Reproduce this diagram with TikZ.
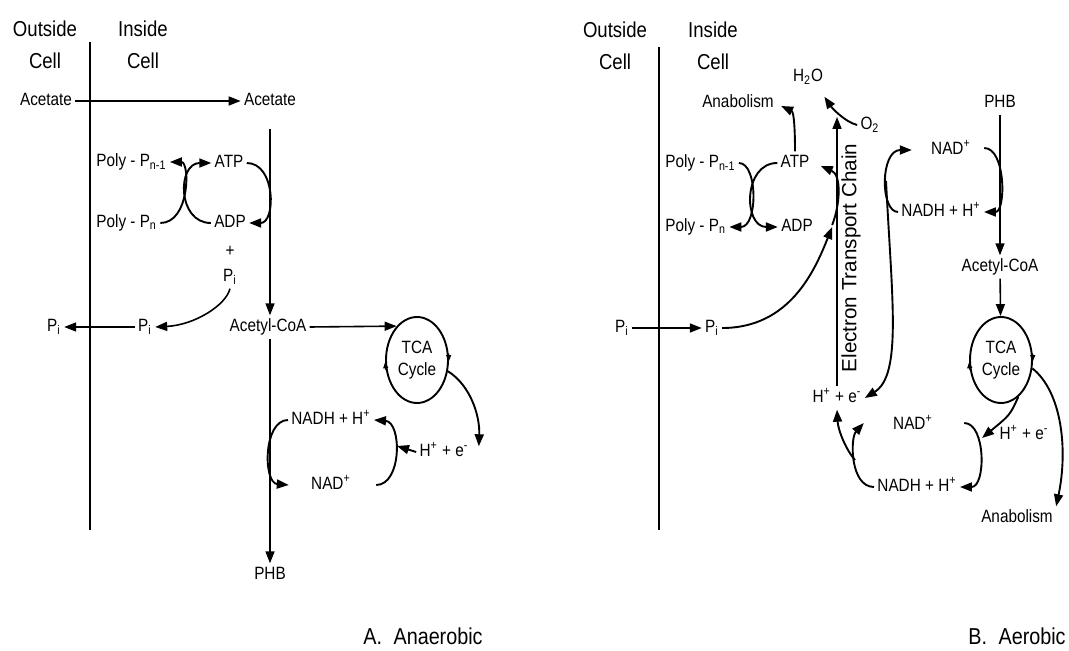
\documentclass[tikz,border=0pt]{standalone}
\usepackage{fontspec}
\setmainfont{Liberation Sans}[FakeStretch=0.86]
\newfontfamily\etcfont{Liberation Sans}
\usepackage{tikz}
\usetikzlibrary{arrows.meta,positioning,calc,shapes.geometric}

\begin{document}
\begin{tikzpicture}[x=0.5pt, y=-0.5pt,
    lbl/.style={inner sep=1.5pt, font=\fontsize{8.9}{10}\selectfont,
                text height=6.5pt, text depth=1.8pt},
    head/.style={align=center, font=\fontsize{10.8}{16}\selectfont},
    capt/.style={font=\fontsize{11.5}{14}\selectfont},
    memb/.style={line width=0.6pt},
    flow/.style={line width=0.8pt, -{Triangle[length=6pt,width=4.5pt]}},
    cyc/.style={line width=0.95pt, -{Triangle[length=6pt,width=4.5pt]}},
    tcacirc/.style={draw, ellipse, line width=0.95pt, minimum width=31pt,
                    minimum height=43pt, inner sep=0pt, align=center,
                    font=\fontsize{8.9}{11}\selectfont},
    tick/.style={line width=0.6pt, -{Triangle[length=3pt,width=2.5pt]}}]
  \useasboundingbox (0,0) rectangle (1069,651);

  % ---------- A. anaerobic ----------
  \node[head] (outA) at (45,45) {Outside\\Cell};
  \node[head] (inA) at (143,45) {Inside\\Cell};
  \draw[memb] (90,42) -- (90,530);

  \node[lbl] (acout) at (46,101) {Acetate};
  \node[lbl] (acin) at (270,101) {Acetate};
  \node[lbl, anchor=west] (pn1A) at (93,162) {Poly - P\textsubscript{n-1}};
  \node[lbl] (atpA) at (229,163) {ATP};
  \node[lbl, anchor=west] (pnA) at (93,223) {Poly - P\textsubscript{n}};
  \node[lbl] (adpA) at (230,223) {ADP};
  \node[lbl] (plusA) at (230,252) {+};
  \node[lbl] (piA) at (230,277) {P\textsubscript{i}};
  \node[lbl] (pimA) at (145,327) {P\textsubscript{i}};
  \node[lbl] (pioA) at (54,327) {P\textsubscript{i}};
  \node[lbl] (acoaA) at (268,327) {Acetyl-CoA};
  \node[tcacirc] (tcaA) at (417,360) {TCA\\Cycle};
  \node[lbl] (nadhA) at (331,420) {NADH + H\textsuperscript{+}};
  \node[lbl] (heA) at (444,452) {H\textsuperscript{+} + e\textsuperscript{-}};
  \node[lbl] (nadA) at (331,485) {NAD\textsuperscript{+}};
  \node[lbl] (phbA) at (270,575) {PHB};
  \node[capt] (capA) at (423,636) {A.\hspace{0.5em}Anaerobic};
  \coordinate (hitA) at (397,446);

  \draw[flow] (acout) -- (acin);
  \draw[flow, shorten <=8pt] (acin.south) -- (acin |- acoaA.north);
  \draw[flow] (acoaA.east) -- (tcaA.121);
  \draw[flow] (acoaA.south -| phbA) -- (phbA.north);
  \draw[flow] (piA.south) .. controls (226,305) and (195,325) .. (pimA.east);
  \draw[flow] (pimA.west) -- (pioA.east);
  % poly-P and ATP exchange
  \draw[cyc] (pnA.east) .. controls (190,223) and (190,162) .. (pn1A.east);
  \draw[cyc] (adpA.west) .. controls (177,223) and (177,163) .. (atpA.west);
  \draw[cyc] (atpA.east) .. controls (276,163) and (276,223) .. (adpA.east);
  % TCA cycle
  \draw[tick] (tcaA.12) -- (tcaA.-2);
  \draw[tick] (tcaA.198) -- (tcaA.184);
  \draw[cyc] (tcaA.-20) .. controls (470,385) and (480,415) .. ($(heA.north east)+(7,6)$);
  \draw[cyc] (heA.west) -- (hitA);
  \draw[cyc] ($(nadA.east)+(22,0)$) .. controls (402,485) and (402,422) .. (nadhA.east);
  \draw[cyc] (nadhA.west) .. controls (263,420) and (263,483) .. ($(nadA.west)+(-19,0)$);

  % ---------- B. aerobic ----------
  \node[head] (outB) at (615,46) {Outside\\Cell};
  \node[head] (inB) at (713,46) {Inside\\Cell};
  \draw[memb] (659,47) -- (659,530);

  \node[lbl] (h2o) at (808,77) {H\textsubscript{2}O};
  \node[lbl] (anabB) at (738,103) {Anabolism};
  \node[lbl] (o2) at (870,125) {O\textsubscript{2}};
  \node[lbl, anchor=west] (pn1B) at (662,163) {Poly - P\textsubscript{n-1}};
  \node[lbl] (atpB) at (795,163) {ATP};
  \node[lbl, anchor=west] (pnB) at (662,227) {Poly - P\textsubscript{n}};
  \node[lbl] (adpB) at (797,227) {ADP};
  \node[lbl] (pioB) at (622,328) {P\textsubscript{i}};
  \node[lbl] (piiB) at (712,328) {P\textsubscript{i}};
  \node[lbl] (heB) at (837,398) {H\textsuperscript{+} + e\textsuperscript{-}};
  \node[rotate=90, font={\etcfont\fontsize{10.3}{12}\selectfont}] (etc) at (851,258)
       {Electron Transport Chain};
  \node[lbl] (phbB) at (1000,103) {PHB};
  \node[lbl] (naduB) at (951,150) {NAD\textsuperscript{+}};
  \node[lbl] (nadhuB) at (941,212) {NADH + H\textsuperscript{+}};
  \node[lbl] (acoaB) at (1000,267) {Acetyl-CoA};
  \node[tcacirc] (tcaB) at (1001,360) {TCA\\Cycle};
  \node[lbl] (nadB) at (913,425) {NAD\textsuperscript{+}};
  \node[lbl] (heB2) at (1024,435) {H\textsuperscript{+} + e\textsuperscript{-}};
  \node[lbl] (nadhB) at (917,487) {NADH + H\textsuperscript{+}};
  \node[lbl] (anabB2) at (1017,518) {Anabolism};
  \node[capt] (capB) at (1017,636) {B.\hspace{0.5em}Aerobic};
  \coordinate (etctop) at (837,117);
  \coordinate (brU) at (886,181);
  \coordinate (brB) at (855,460);
  \coordinate (hitB) at (982,438);

  \draw[flow] (pioB) -- (piiB);
  \draw[cyc] (pn1B.east) .. controls (758,163) and (758,227) .. (pnB.east);
  \draw[cyc] (atpB.west) .. controls (743,163) and (743,227) .. (adpB.west);
  \draw[cyc] (atpB.north) .. controls (795,130) and (794,112) .. ($(anabB.east)+(4,3)$);
  \draw[flow] (heB.north) -- (etctop);
  \draw[cyc] (o2.west) .. controls (845,122) and (832,108) .. ($(h2o.south east)+(-2,8)$);
  \draw[cyc] (piiB.east) .. controls (790,328) and (815,270) .. ($(adpB.east)+(16,0)$);
  \draw[cyc] ($(adpB.east)+(16,-2)$) .. controls (840,205) and (842,175) .. ($(atpB.east)+(8,3)$);
  % PHB breakdown
  \draw[flow] (phbB) -- (acoaB);
  \draw[flow] (acoaB) -- (tcaB);
  \draw[cyc] ($(naduB.east)+(10,-2)$) .. controls (1006,148) and (1006,212) .. (nadhuB.east);
  \draw[cyc] (nadhuB.west) .. controls (880,212) and (880,150) .. ($(naduB.west)+(-16,0)$);
  \draw[cyc] (brU) .. controls (892,300) and (902,375) .. (heB.east);
  % TCA cycle
  \draw[tick] (tcaB.12) -- (tcaB.-2);
  \draw[tick] (tcaB.198) -- (tcaB.184);
  \draw[cyc] (tcaB.-65) .. controls (1010,415) .. (hitB);
  \draw[cyc] (tcaB.-15) .. controls (1062,392) and (1068,450) .. (anabB2.north east);
  \draw[cyc] ($(nadB.east)+(28,-2)$) .. controls (986,423) and (986,487) .. (nadhB.east);
  \draw[cyc] (nadhB.west) .. controls (850,487) and (850,438) .. ($(nadB.west)+(-26,-2)$);
  \draw[cyc] (brB) .. controls (846,450) and (838,430) .. (heB.south);
\end{tikzpicture}
\end{document}
